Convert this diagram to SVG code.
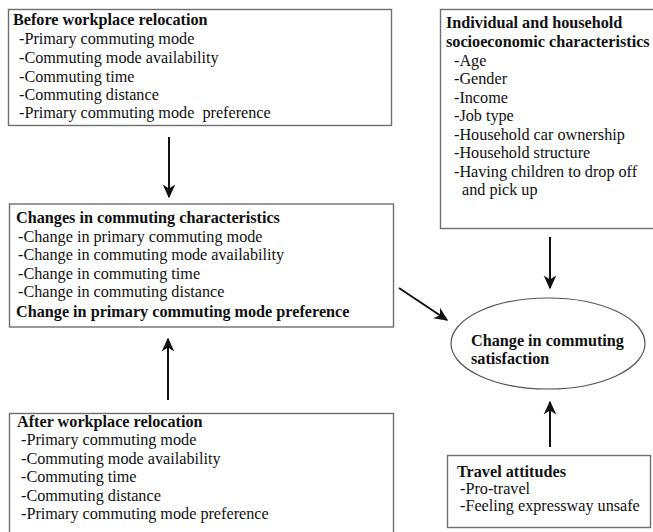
<svg xmlns="http://www.w3.org/2000/svg" width="653" height="532" viewBox="0 0 653 532">
<style>
.box{fill:#fff;stroke:#6e6e6e;stroke-width:1.4}
.t{font-family:"Liberation Serif","Times New Roman",serif;font-size:16.2px;fill:#111}
.b{font-weight:bold}
.conn{stroke:#111;stroke-width:2;fill:none;marker-end:url(#ah)}
</style>
<defs>
<marker id="ah" viewBox="0 0 10 10" refX="9" refY="5" markerWidth="7" markerHeight="7" orient="auto" markerUnits="strokeWidth">
<path d="M0,0.5 L10,5 L0,9.5 L3,5 Z" fill="#111"/>
</marker>
</defs>
<rect width="653" height="532" fill="#fff"/>
<g id="before">
<rect class="box" x="8.5" y="9.5" width="383" height="116"/>
<text class="t b" x="13" y="25">Before workplace relocation</text>
<text class="t" x="19" y="44">-Primary commuting mode</text>
<text class="t" x="19" y="63">-Commuting mode availability</text>
<text class="t" x="19" y="82">-Commuting time</text>
<text class="t" x="19" y="100">-Commuting distance</text>
<text class="t" x="19" y="118" xml:space="preserve">-Primary commuting mode  preference</text>
</g>
<g id="changes">
<rect class="box" x="9.5" y="204" width="384" height="123"/>
<text class="t b" x="16" y="223">Changes in commuting characteristics</text>
<text class="t" x="18" y="242">-Change in primary commuting mode</text>
<text class="t" x="18" y="260">-Change in commuting mode availability</text>
<text class="t" x="18" y="279">-Change in commuting time</text>
<text class="t" x="18" y="297">-Change in commuting distance</text>
<text class="t b" x="16" y="317">Change in primary commuting mode preference</text>
</g>
<g id="after">
<rect class="box" x="9.5" y="413.5" width="384" height="125"/>
<text class="t b" x="17" y="427">After workplace relocation</text>
<text class="t" x="21" y="445">-Primary commuting mode</text>
<text class="t" x="21" y="464">-Commuting mode availability</text>
<text class="t" x="21" y="482">-Commuting time</text>
<text class="t" x="21" y="501">-Commuting distance</text>
<text class="t" x="21" y="519">-Primary commuting mode preference</text>
</g>
<g id="socio">
<rect class="box" x="440.5" y="9.5" width="216" height="219"/>
<text class="t b" x="446" y="28">Individual and household</text>
<text class="t b" x="446" y="47">socioeconomic characteristics</text>
<text class="t" x="454" y="66">-Age</text>
<text class="t" x="454" y="84">-Gender</text>
<text class="t" x="454" y="103">-Income</text>
<text class="t" x="454" y="121">-Job type</text>
<text class="t" x="454" y="140">-Household car ownership</text>
<text class="t" x="454" y="158">-Household structure</text>
<text class="t" x="454" y="177">-Having children to drop off</text>
<text class="t" x="462" y="195">and pick up</text>
</g>
<g id="satisfaction">
<ellipse cx="548" cy="343.5" rx="97" ry="45.5" fill="#fff" stroke="#555" stroke-width="1.2"/>
<text class="t b" x="471" y="346">Change in commuting</text>
<text class="t b" x="471" y="364">satisfaction</text>
</g>
<g id="attitudes">
<rect class="box" x="447.5" y="455.5" width="203" height="72"/>
<text class="t b" x="457" y="477">Travel attitudes</text>
<text class="t" x="460" y="494">-Pro-travel</text>
<text class="t" x="460" y="511">-Feeling expressway unsafe</text>
</g>
<g id="connectors">
<line class="conn" x1="169" y1="137" x2="169" y2="197"/>
<line class="conn" x1="168" y1="400" x2="168" y2="339"/>
<line class="conn" x1="550" y1="237" x2="550" y2="288"/>
<line class="conn" x1="550" y1="447" x2="550" y2="402"/>
<line class="conn" x1="399" y1="288" x2="447" y2="320"/>
</g>
</svg>
